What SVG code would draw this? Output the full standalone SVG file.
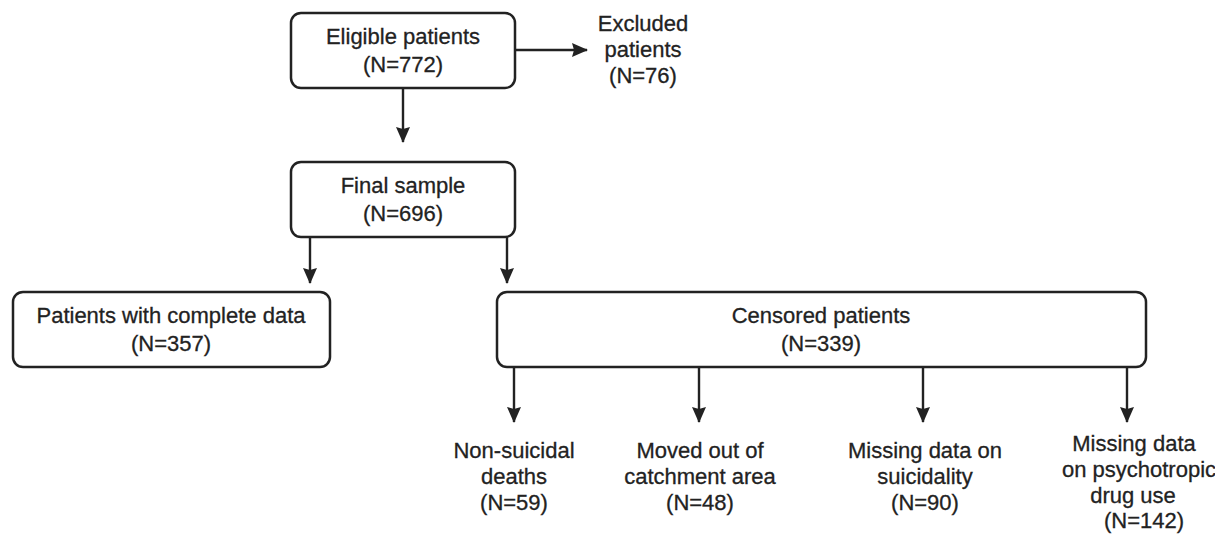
<svg xmlns="http://www.w3.org/2000/svg" width="1215" height="536" viewBox="0 0 1215 536">
  <style>
    .box { fill: #ffffff; stroke: #222222; stroke-width: 2.5; }
    .lbl { font-family: "Liberation Sans", Arial, sans-serif; font-size: 22px; fill: #222222; stroke: #222222; stroke-width: 0.3; text-anchor: middle; }
    .conn { stroke: #222222; stroke-width: 2.4; fill: none; marker-end: url(#arrow); }
  </style>
  <defs>
    <marker id="arrow" markerUnits="userSpaceOnUse" markerWidth="16" markerHeight="16" viewBox="0 0 16 16" refX="15" refY="8" orient="auto">
      <path d="M0,1 L16,8 L0,15 L2,8 z" fill="#222222"/>
    </marker>
  </defs>
  <rect width="1215" height="536" fill="#ffffff"/>

  <g id="connectors">
    <line class="conn" x1="515" y1="50" x2="587" y2="50"/>
    <line class="conn" x1="403" y1="88" x2="403" y2="142"/>
    <line class="conn" x1="310" y1="237" x2="310" y2="283"/>
    <line class="conn" x1="507" y1="237" x2="507" y2="283"/>
    <line class="conn" x1="514" y1="367" x2="514" y2="422"/>
    <line class="conn" x1="699" y1="367" x2="699" y2="422"/>
    <line class="conn" x1="923" y1="367" x2="923" y2="422"/>
    <line class="conn" x1="1127" y1="367" x2="1127" y2="422"/>
  </g>

  <g id="eligible">
    <rect class="box" x="291" y="13" width="224" height="75" rx="10"/>
    <text class="lbl" x="403" y="44">Eligible patients</text>
    <text class="lbl" x="403" y="72">(N=772)</text>
  </g>

  <g id="excluded">
    <text class="lbl" x="643" y="31">Excluded</text>
    <text class="lbl" x="643" y="57">patients</text>
    <text class="lbl" x="643" y="83">(N=76)</text>
  </g>

  <g id="final">
    <rect class="box" x="291" y="162" width="224" height="75" rx="10"/>
    <text class="lbl" x="403" y="193">Final sample</text>
    <text class="lbl" x="403" y="221">(N=696)</text>
  </g>

  <g id="complete">
    <rect class="box" x="13" y="292" width="317" height="75" rx="10"/>
    <text class="lbl" x="171" y="323">Patients with complete data</text>
    <text class="lbl" x="171" y="351">(N=357)</text>
  </g>

  <g id="censored">
    <rect class="box" x="497" y="292" width="649" height="75" rx="10"/>
    <text class="lbl" x="821" y="323">Censored patients</text>
    <text class="lbl" x="821" y="351">(N=339)</text>
  </g>

  <g id="nonsuicidal">
    <text class="lbl" x="514" y="458">Non-suicidal</text>
    <text class="lbl" x="514" y="484">deaths</text>
    <text class="lbl" x="514" y="510">(N=59)</text>
  </g>

  <g id="moved">
    <text class="lbl" x="700" y="458">Moved out of</text>
    <text class="lbl" x="700" y="484">catchment area</text>
    <text class="lbl" x="700" y="510">(N=48)</text>
  </g>

  <g id="suicidality">
    <text class="lbl" x="925" y="458">Missing data on</text>
    <text class="lbl" x="925" y="484">suicidality</text>
    <text class="lbl" x="925" y="510">(N=90)</text>
  </g>

  <g id="psychotropic">
    <text class="lbl" x="1134" y="451">Missing data</text>
    <text class="lbl" x="1139" y="477">on psychotropic</text>
    <text class="lbl" x="1133" y="503">drug use</text>
    <text class="lbl" x="1144" y="528">(N=142)</text>
  </g>
</svg>
